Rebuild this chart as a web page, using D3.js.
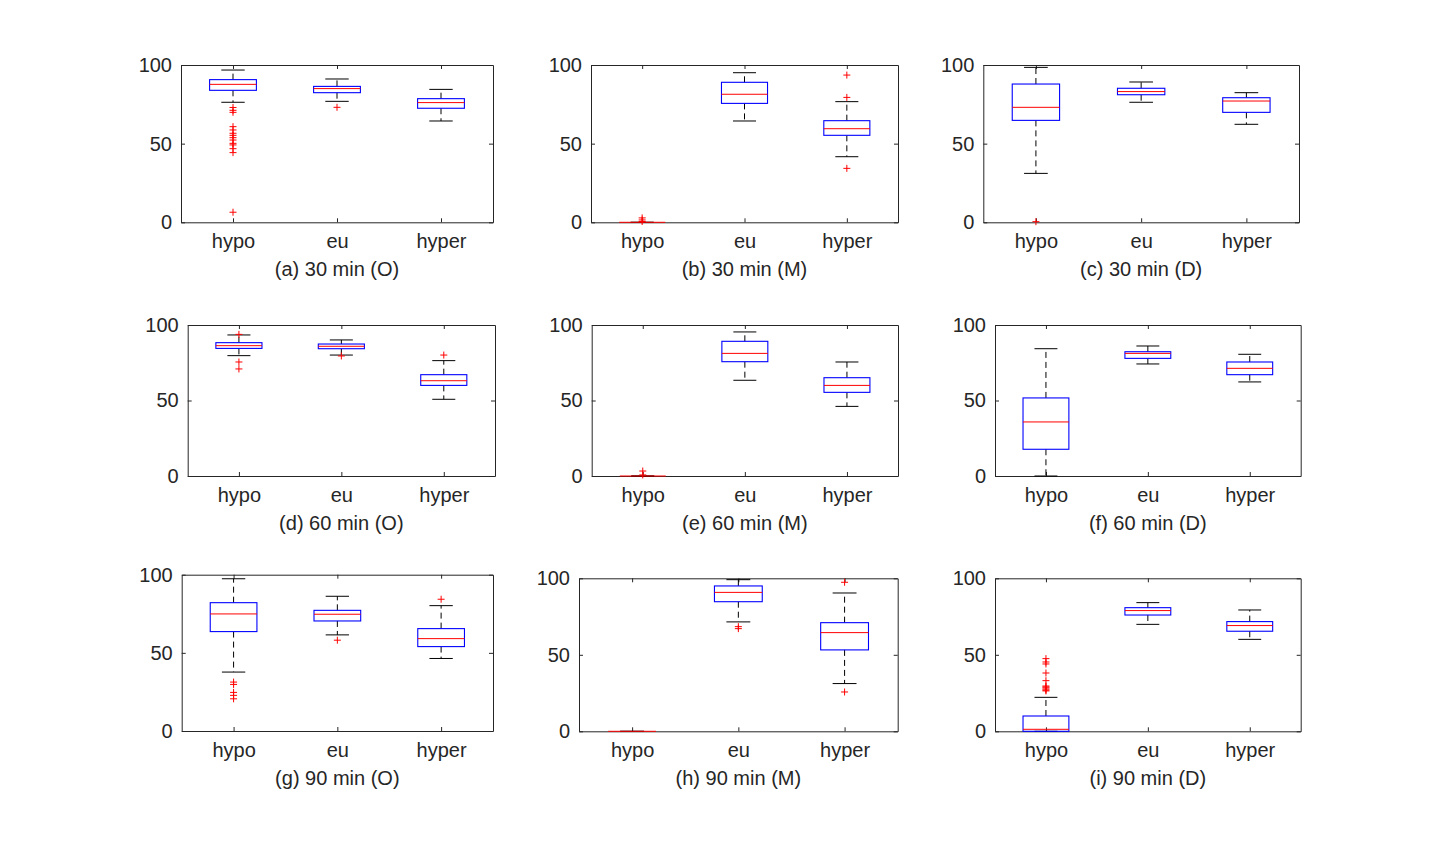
<!DOCTYPE html>
<html>
<head>
<meta charset="utf-8">
<script src="https://cdn.jsdelivr.net/npm/d3@7"></script>
<style>
  body { margin: 0; background: #fff; }
  svg { display: block; }
</style>
</head>
<body>
<script>
// 3x3 boxplot panels (MATLAB style)
const categories = ["hypo", "eu", "hyper"];
const captions = [
  "(a) 30 min (O)", "(b) 30 min (M)", "(c) 30 min (D)",
  "(d) 60 min (O)", "(e) 60 min (M)", "(f) 60 min (D)",
  "(g) 90 min (O)", "(h) 90 min (M)", "(i) 90 min (D)"
];
const yTicks = [0, 50, 100];

// per panel, values for [hypo, eu, hyper]
const whiskerLow = [
  [76.3, 76.9, 64.4], [0, 64.4, 41.7], [31.1, 76.3, 62.3],
  [79.7, 80.1, 50.8], [0, 63.4, 46.1], [0, 74.2, 62.3],
  [37.7, 61.5, 46.4], [0, 71.5, 31.2], [0, 69.9, 60.1]
];
const q1 = [
  [83.9, 82.4, 72.5], [0, 75.6, 55.3], [64.8, 81.1, 69.9],
  [84.5, 84.3, 60.0], [0, 75.7, 55.4], [17.7, 77.9, 67.1],
  [63.6, 70.4, 54.0], [0, 84.7, 53.2], [0, 76.0, 65.4]
];
const median = [
  [87.7, 85.0, 76.1], [0, 81.4, 59.5], [73.1, 83.1, 77.1],
  [86.3, 85.9, 63.1], [0, 81.2, 60.0], [35.8, 81.2, 71.3],
  [74.9, 74.7, 59.1], [0, 90.8, 64.5], [1.3, 78.9, 69.1]
];
const q3 = [
  [90.7, 86.4, 78.6], [0, 89.0, 64.6], [87.9, 85.2, 79.2],
  [88.3, 87.4, 67.1], [0, 89.2, 65.1], [51.7, 82.3, 75.5],
  [82.1, 77.2, 65.5], [0, 95.0, 71.0], [10.0, 80.8, 71.7]
];
const whiskerHigh = [
  [96.8, 91.1, 84.5], [0, 95.1, 76.7], [98.5, 89.2, 82.4],
  [93.4, 90.1, 76.4], [0, 95.4, 75.5], [84.3, 86.1, 80.6],
  [97.4, 86.2, 80.2], [0, 99.1, 90.4], [22.2, 84.1, 79.3]
];
const outliers = [
  [[73, 71.2, 69.9, 60.8, 58.7, 56.6, 55.3, 53.8, 52.3, 50.2, 49.2, 46.8, 44.3, 6.4], [73.1], []],
  [[0.5, 1.5, 2.8], [], [93.6, 79.4, 34.3]],
  [[0.4], [], []],
  [[93.8, 75.5, 70.9], [79.5], [80.1]],
  [[0.7, 3.3], [], []],
  [[], [], []],
  [[31.3, 29.8, 24.7, 22.8, 20.6], [58.1], [84.3]],
  [[], [68.4, 67.1], [97.4, 25.7]],
  [[47.5, 45.3, 44.0, 38.1, 33.1, 29.6, 29.0, 28.4, 27.6, 26.9, 26.4], [], []]
];

// axes rectangles in the page (left, right, top, bottom)
const panels = [
  [181, 493, 65, 222.3], [591, 898, 65, 222.3], [983.3, 1299, 65, 222.3],
  [187.7, 495, 325, 476], [591.7, 898, 325, 476], [995, 1300.7, 325, 476],
  [181.7, 493, 574.7, 731], [579, 897.7, 578.3, 731.3], [995, 1300.7, 578.3, 731.3]
];

const font = "'Liberation Sans', Arial, Helvetica, sans-serif";
const axisColor = "#262626";

const svg = d3.select("body").append("svg")
  .attr("width", 1440)
  .attr("height", 849);

svg.append("rect").attr("width", 1440).attr("height", 849).attr("fill", "#fff");

panels.forEach(function (p, i) {
  const [l, r, t, b] = p;
  const x = d3.scalePoint().domain(categories).range([l, r]).padding(0.5);
  const y = d3.scaleLinear().domain([0, 100]).range([b, t]);
  const bw = x.step() * 0.45;  // box width
  const cw = bw / 2;           // whisker cap width

  const g = svg.append("g");

  // white plot area
  g.append("rect")
    .attr("x", l).attr("y", t)
    .attr("width", r - l).attr("height", b - t)
    .attr("fill", "#fff");

  // axes on 4 sides, ticks pointing inward
  const styleAxis = function (sel) {
    sel.selectAll("path.domain").attr("stroke", axisColor).attr("stroke-width", 1);
    sel.selectAll(".tick line").attr("stroke", axisColor);
    sel.selectAll(".tick text")
      .attr("fill", axisColor)
      .style("font-family", font)
      .style("font-size", "20px");
  };
  g.append("g").attr("transform", "translate(" + l + ",0)")
    .call(d3.axisLeft(y).tickValues(yTicks).tickSizeInner(-4).tickSizeOuter(0).tickPadding(9))
    .call(styleAxis);
  g.append("g").attr("transform", "translate(" + r + ",0)")
    .call(d3.axisRight(y).tickValues(yTicks).tickSizeInner(-4).tickSizeOuter(0).tickFormat(""))
    .call(styleAxis);
  g.append("g").attr("transform", "translate(0," + b + ")")
    .call(d3.axisBottom(x).tickSizeInner(-4).tickSizeOuter(0).tickPadding(12))
    .call(styleAxis);
  g.append("g").attr("transform", "translate(0," + t + ")")
    .call(d3.axisTop(x).tickSizeInner(-4).tickSizeOuter(0).tickFormat(""))
    .call(styleAxis);

  // boxes
  categories.forEach(function (c, j) {
    const cx = x(c);
    const lo = whiskerLow[i][j], a = q1[i][j], m = median[i][j], h = q3[i][j], hi = whiskerHigh[i][j];

    // whiskers (dashed)
    g.append("line")
      .attr("x1", cx).attr("x2", cx)
      .attr("y1", y(h)).attr("y2", y(hi))
      .attr("stroke", "#000").attr("stroke-dasharray", "6,4");
    g.append("line")
      .attr("x1", cx).attr("x2", cx)
      .attr("y1", y(a)).attr("y2", y(lo))
      .attr("stroke", "#000").attr("stroke-dasharray", "6,4");
    // caps
    [lo, hi].forEach(function (v) {
      g.append("line")
        .attr("x1", cx - cw / 2).attr("x2", cx + cw / 2)
        .attr("y1", y(v)).attr("y2", y(v))
        .attr("stroke", "#000");
    });
    // box
    g.append("rect")
      .attr("x", cx - bw / 2).attr("y", y(h))
      .attr("width", bw).attr("height", y(a) - y(h))
      .attr("fill", "none").attr("stroke", "#0000ff")
      .attr("stroke-width", 1.1);
    // median
    g.append("line")
      .attr("x1", cx - bw / 2).attr("x2", cx + bw / 2)
      .attr("y1", y(m)).attr("y2", y(m))
      .attr("stroke", "#ff0000");
    // outliers '+'
    g.selectAll(null)
      .data(outliers[i][j])
      .enter()
      .append("path")
      .attr("d", function (v) {
        const py = y(v);
        return "M" + (cx - 3.5) + "," + py + "H" + (cx + 3.5) +
          "M" + cx + "," + (py - 3.5) + "V" + (py + 3.5);
      })
      .attr("stroke", "#ff0000")
      .attr("fill", "none");
  });

  // caption under the panel
  g.append("text")
    .attr("x", (l + r) / 2)
    .attr("y", b + 54)
    .attr("text-anchor", "middle")
    .attr("fill", axisColor)
    .style("font-family", font)
    .style("font-size", "20px")
    .text(captions[i]);
});
</script>
</body>
</html>
